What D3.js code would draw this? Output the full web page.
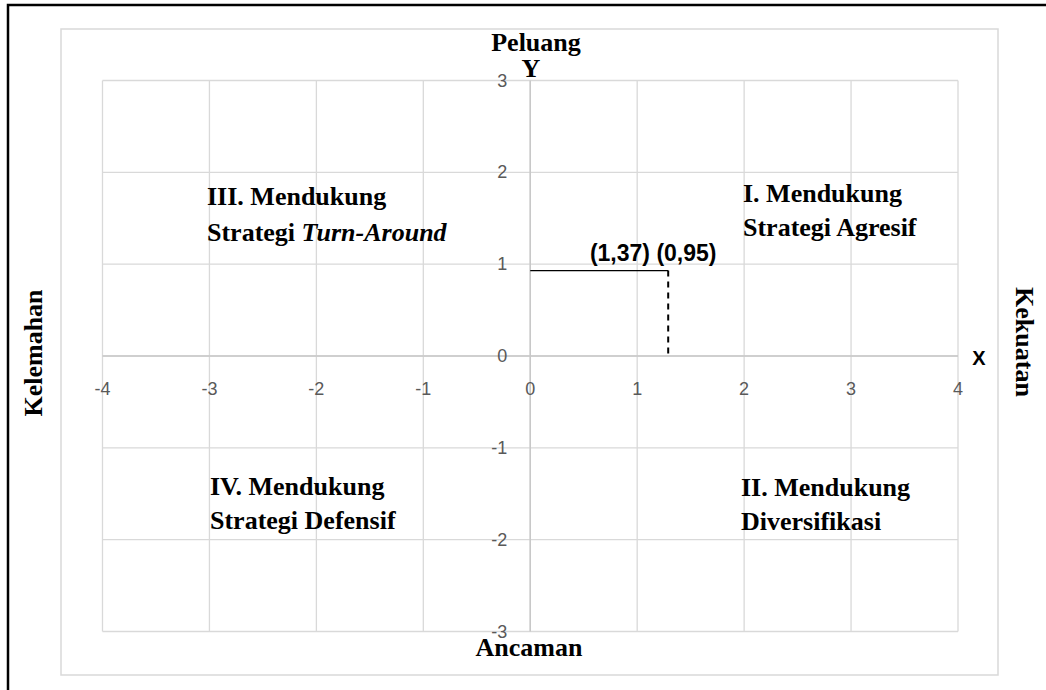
<!DOCTYPE html>
<html>
<head>
<meta charset="utf-8">
<script src="https://cdn.jsdelivr.net/npm/d3@7"></script>
<style>
	body { margin: 0; background: #ffffff; }
	svg { display: block; }
</style>
</head>
<body>
<svg id="swot-svg" width="1046" height="690"></svg>
<script>
// Values
var xTicks = [-4, -3, -2, -1, 0, 1, 2, 3, 4];
var yTicks = [-3, -2, -1, 0, 1, 2, 3];
var pointX = [0, 1.29];
var pointY = [0.93, 0.93];
var dropX = [1.29, 1.29];
var dropY = [0.93, 0];
var pointLabel = "(1,37) (0,95)";

var quadrantNames = ["III. Mendukung", "I. Mendukung", "IV. Mendukung", "II. Mendukung"];
var quadrantSecond = ["Strategi ", "Strategi Agresif", "Strategi Defensif", "Diversifikasi"];


var SERIF = "'Liberation Serif', 'Times New Roman', serif";
var SANS = "'Liberation Sans', Arial, sans-serif";


function draw_swot() {
	var svg = d3.select("#swot-svg");

	// plot box edges (x -4..4, y -3..3)
	var plot = { left: 102.5, right: 958, top: 80.5, bottom: 631.5 };

	var x = d3.scaleLinear()
	          .domain([-4, 4])
	          .range([plot.left, plot.right]);

	var y = d3.scaleLinear()
	          .domain([-3, 3])
	          .range([plot.bottom, plot.top]);

	// black page frame, only left and top edges in view
	svg.append("rect")
	   .attr("x", 8).attr("y", 5)
	   .attr("width", 1200).attr("height", 1000)
	   .attr("fill", "none")
	   .attr("stroke", "#000")
	   .attr("stroke-width", 2.5);

	// chart area border
	svg.append("rect")
	   .attr("x", 61).attr("y", 29)
	   .attr("width", 937).attr("height", 646)
	   .attr("fill", "#fff")
	   .attr("stroke", "#d9d9d9")
	   .attr("stroke-width", 1.5);

	var g = svg.append("g");

	// gridlines
	g.selectAll(".vgrid")
	 .data(xTicks)
	 .enter().append("line")
	 .attr("class", "vgrid")
	 .attr("x1", function(d) { return x(d); })
	 .attr("x2", function(d) { return x(d); })
	 .attr("y1", y(3)).attr("y2", y(-3))
	 .attr("stroke", "#d9d9d9")
	 .attr("stroke-width", 1.3);

	g.selectAll(".hgrid")
	 .data(yTicks)
	 .enter().append("line")
	 .attr("class", "hgrid")
	 .attr("x1", x(-4)).attr("x2", x(4))
	 .attr("y1", function(d) { return y(d); })
	 .attr("y2", function(d) { return y(d); })
	 .attr("stroke", "#d9d9d9")
	 .attr("stroke-width", 1.3);

	// axes through the origin
	g.append("line")
	 .attr("x1", x(-4)).attr("x2", x(4))
	 .attr("y1", y(0)).attr("y2", y(0))
	 .attr("stroke", "#c8c8c8").attr("stroke-width", 1.5);
	g.append("line")
	 .attr("x1", x(0)).attr("x2", x(0))
	 .attr("y1", y(3)).attr("y2", y(-3))
	 .attr("stroke", "#c8c8c8").attr("stroke-width", 1.5);

	// tick labels
	g.selectAll(".xlab")
	 .data(xTicks)
	 .enter().append("text")
	 .attr("class", "xlab")
	 .attr("x", function(d) { return x(d); })
	 .attr("y", y(0) + 39)
	 .attr("text-anchor", "middle")
	 .attr("font-family", SANS)
	 .attr("font-size", 18)
	 .attr("fill", "#595959")
	 .text(function(d) { return d; });

	g.selectAll(".ylab")
	 .data(yTicks)
	 .enter().append("text")
	 .attr("class", "ylab")
	 .attr("x", x(0) - 23)
	 .attr("y", function(d) { return y(d) + 6; })
	 .attr("text-anchor", "end")
	 .attr("font-family", SANS)
	 .attr("font-size", 18)
	 .attr("fill", "#595959")
	 .text(function(d) { return d; });

	// the position point: solid line to y axis, dashed drop to x axis
	var line = d3.line()
	             .x(function(d) { return x(d[0]); })
	             .y(function(d) { return y(d[1]); });

	g.append("path")
	 .attr("d", line(d3.zip(pointX, pointY)))
	 .attr("fill", "none")
	 .attr("stroke", "#000")
	 .attr("stroke-width", 1.2);

	g.append("path")
	 .attr("d", line(d3.zip(dropX, dropY)))
	 .attr("fill", "none")
	 .attr("stroke", "#000")
	 .attr("stroke-width", 2)
	 .attr("stroke-dasharray", "6,5");

	g.append("text")
	 .attr("x", x(pointX[1]) - 15)
	 .attr("y", y(pointY[1]) - 10)
	 .attr("text-anchor", "middle")
	 .attr("font-family", SANS)
	 .attr("font-weight", "bold")
	 .attr("font-size", 23)
	 .attr("fill", "#000")
	 .text(pointLabel);

	// axis captions
	var t = svg.append("g")
	           .attr("font-family", SERIF)
	           .attr("font-weight", "bold")
	           .attr("font-size", 26)
	           .attr("fill", "#000");

	t.append("text").attr("x", 536).attr("y", 51).attr("text-anchor", "middle").text("Peluang");
	t.append("text").attr("x", 531).attr("y", 77).attr("text-anchor", "middle").text("Y");
	t.append("text").attr("x", 529).attr("y", 656).attr("text-anchor", "middle").text("Ancaman");

	t.append("text")
	 .attr("transform", "translate(42,353) rotate(-90)")
	 .attr("text-anchor", "middle")
	 .text("Kelemahan");

	t.append("text")
	 .attr("transform", "translate(1016,342) rotate(90)")
	 .attr("text-anchor", "middle")
	 .text("Kekuatan");

	svg.append("text")
	   .attr("x", 979).attr("y", 365)
	   .attr("text-anchor", "middle")
	   .attr("font-family", SANS)
	   .attr("font-weight", "bold")
	   .attr("font-size", 20)
	   .attr("fill", "#000")
	   .text("X");

	// quadrant captions
	var qx = [207, 743, 210, 741];
	var qy = [205, 202, 495, 496];
	var lineGap = [36, 34, 34, 34];

	for (var i = 0; i < quadrantNames.length; i++) {
		t.append("text")
		 .attr("x", qx[i]).attr("y", qy[i])
		 .text(quadrantNames[i]);

		var second = t.append("text")
		              .attr("x", qx[i]).attr("y", qy[i] + lineGap[i])
		              .text(quadrantSecond[i]);

		// III has the italic Turn-Around part
		if (i === 0) {
			second.append("tspan")
			      .attr("font-style", "italic")
			      .text("Turn-Around");
		}
	}
}

draw_swot();
</script>
</body>
</html>
